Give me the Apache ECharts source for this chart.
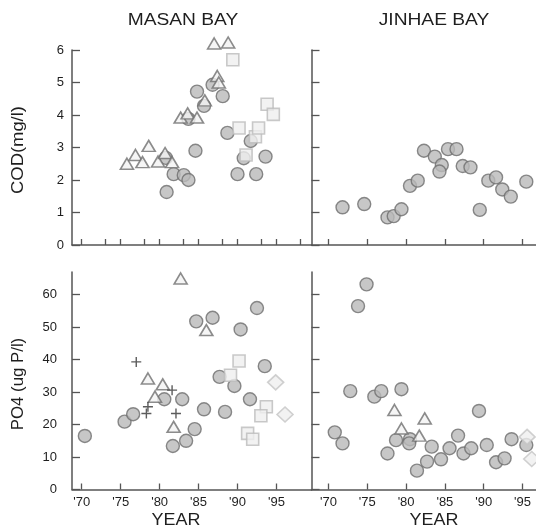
<!DOCTYPE html>
<html><head><meta charset="utf-8">
<script src="https://cdn.jsdelivr.net/npm/echarts@6/dist/echarts.min.js"></script>
<style>html,body{margin:0;padding:0;background:#fff}#c{width:536px;height:532px}</style>
</head><body><div id="c"></div>
<script>
// ---- tick labels / ticks ----
const yearLabels = [70, 75, 80, 85, 90, 95];
const masanCodYearTicks = [70, 73, 75, 78, 80, 83, 85, 88, 90, 93, 95, 98];
const codTicks = [0, 1, 2, 3, 4, 5, 6];
const po4Ticks = [0, 10, 20, 30, 40, 50, 60];

// ---- MASAN BAY, COD (mg/l) ----
const masanCodCircles = [[80.9,1.63],[81.8,2.18],[83.1,2.15],[83.7,2.0],[80.8,2.68],[83.7,3.88],[84.6,2.9],[84.8,4.72],[85.7,4.28],[86.8,4.93],[88.1,4.58],[88.7,3.45],[90.0,2.18],[90.8,2.67],[91.7,3.2],[92.4,2.18],[93.6,2.72]];
const masanCodTriangles = [[75.8,2.5],[76.9,2.77],[77.8,2.55],[78.6,3.05],[79.8,2.57],[80.7,2.83],[81.6,2.55],[82.7,3.92],[83.6,4.05],[84.8,3.92],[85.8,4.45],[87.4,5.2],[87.6,5.0],[87.0,6.2],[88.8,6.23]];
const masanCodSquares = [[89.4,5.7],[90.2,3.6],[91.1,2.77],[92.3,3.33],[92.7,3.6],[93.8,4.33],[94.6,4.02]];

// ---- JINHAE BAY, COD (mg/l) ----
const jinhaeCodCircles = [[71.8,1.16],[74.6,1.26],[77.6,0.85],[78.4,0.89],[79.4,1.1],[80.5,1.82],[81.5,1.98],[82.3,2.9],[83.7,2.72],[84.6,2.46],[84.3,2.26],[85.4,2.95],[86.5,2.95],[87.3,2.43],[88.3,2.39],[89.5,1.08],[90.6,1.98],[91.6,2.08],[92.4,1.71],[93.5,1.49],[95.5,1.95]];

// ---- MASAN BAY, PO4 (ug P/l) ----
const masanPo4Circles = [[70.4,16.5],[75.5,20.9],[76.6,23.2],[80.6,27.8],[82.9,27.8],[81.7,13.4],[83.4,15.0],[84.5,18.6],[84.7,51.8],[86.8,52.9],[85.7,24.7],[87.7,34.7],[88.4,23.9],[89.6,31.9],[90.4,49.3],[91.6,27.8],[92.5,55.9],[93.5,38.0]];
const masanPo4Triangles = [[82.7,65.0],[86.0,49.1],[78.5,34.2],[80.4,32.4],[79.4,28.6],[81.8,19.3]];
const masanPo4Plus = [[77.0,39.3],[78.5,25.5],[78.3,23.4],[81.6,30.6],[82.1,23.4]];
const masanPo4Squares = [[89.1,35.2],[90.2,39.6],[93.7,25.5],[93.0,22.7],[91.3,17.3],[91.95,15.5]];
const masanPo4Diamonds = [[94.9,33.0],[96.1,23.1]];

// ---- JINHAE BAY, PO4 (ug P/l) ----
const jinhaePo4Circles = [[74.9,63.2],[73.8,56.5],[72.8,30.3],[75.9,28.6],[76.8,30.3],[79.4,30.9],[70.8,17.6],[71.8,14.2],[77.6,11.1],[78.7,15.2],[80.5,15.5],[80.4,14.2],[81.4,5.8],[83.3,13.2],[82.7,8.6],[84.5,9.3],[85.6,12.7],[86.7,16.6],[87.4,11.1],[88.4,12.7],[89.4,24.2],[90.4,13.7],[91.6,8.4],[92.7,9.6],[93.6,15.5],[95.5,13.7]];
const jinhaePo4Triangles = [[78.5,24.5],[79.4,18.8],[81.7,16.6],[82.4,21.9]];
const jinhaePo4Diamonds = [[95.6,16.2],[96.2,9.4]];

const FONT = 'Liberation Sans';
const axisCol = '#555';
const lbl = { color: '#1e1e1e', fontFamily: FONT, fontSize: 13 };

function xAx(grid, min, max, ticks, labels) {
  return {
    type: 'value', gridIndex: grid, min: min, max: max,
    splitLine: { show: false },
    axisLine: { onZero: false, lineStyle: { color: axisCol, width: 1.5 } },
    axisTick: { inside: true, length: 6, customValues: ticks, lineStyle: { color: axisCol, width: 1.3 } },
    axisLabel: labels ? Object.assign({ customValues: labels, margin: 6, formatter: v => "'" + v }, lbl) : { show: false }
  };
}
function yAx(grid, max, ticks, showLabels, margin) {
  return {
    type: 'value', gridIndex: grid, min: 0, max: max,
    splitLine: { show: false },
    axisLine: { onZero: false, lineStyle: { color: axisCol, width: 1.5 } },
    axisTick: { inside: true, length: 8, customValues: ticks, lineStyle: { color: axisCol, width: 1.3 } },
    axisLabel: showLabels ? Object.assign({ customValues: ticks, margin: margin }, lbl) : { show: false }
  };
}

const circleStyle = { color: '#b9b9b9', borderColor: '#6e6e6e', borderWidth: 1.4 };
const triStyle = { color: '#f3f3f3', borderColor: '#6f6f6f', borderWidth: 1.6 };
const sqStyle = { color: '#efefef', borderColor: '#bcbcbc', borderWidth: 1.6 };
const diaStyle = { color: '#efefef', borderColor: '#c4c4c4', borderWidth: 1.6 };
const plusPath = 'path://M4.3,0h1.4v4.3h4.3v1.4h-4.3v4.3h-1.4v-4.3h-4.3v-1.4h4.3z';

function sc(idx, data, kind) {
  const base = { type: 'scatter', xAxisIndex: idx, yAxisIndex: idx, data: data, silent: true, animation: false, clip: false };
  if (kind === 'circle') return Object.assign(base, { symbol: 'circle', symbolSize: 13, itemStyle: circleStyle, z: 2 });
  if (kind === 'tri') return Object.assign(base, { symbol: 'triangle', symbolSize: [13, 11], itemStyle: triStyle, z: 4 });
  if (kind === 'sq') return Object.assign(base, { symbol: 'rect', symbolSize: 12, itemStyle: sqStyle, z: 3 });
  if (kind === 'dia') return Object.assign(base, { symbol: 'diamond', symbolSize: [16, 15], itemStyle: diaStyle, z: 3 });
  if (kind === 'plus') return Object.assign(base, { symbol: plusPath, symbolSize: 10, itemStyle: { color: '#333' }, z: 5 });
}

function txt(x, y, s, size, sx, rot) {
  return {
    type: 'text', x: x, y: y, rotation: rot || 0, scaleX: sx, scaleY: 1,
    style: { text: s, fill: '#1e1e1e', font: size + 'px "' + FONT + '"', align: 'center', verticalAlign: 'middle' }
  };
}

const chart = echarts.init(document.getElementById('c'), null, { renderer: 'canvas' });
chart.setOption({
  backgroundColor: '#fff',
  animation: false,
  grid: [
    { left: 72, top: 50, width: 239.5, height: 195 },
    { left: 311.5, top: 50, width: 224.5, height: 195 },
    { left: 72, top: 272, width: 239.5, height: 217.5 },
    { left: 311.5, top: 272, width: 224.5, height: 217.5 }
  ],
  xAxis: [
    xAx(0, 68.75, 99.5, masanCodYearTicks, null),
    xAx(1, 67.8, 96.75, yearLabels, null),
    xAx(2, 68.75, 99.5, yearLabels, yearLabels),
    xAx(3, 67.8, 96.75, yearLabels, yearLabels)
  ],
  yAxis: [
    yAx(0, 6, codTicks, true, 8),
    yAx(1, 6, codTicks, false, 8),
    yAx(2, 67, po4Ticks, true, 15),
    yAx(3, 67, po4Ticks, false, 15)
  ],
  series: [
    sc(0, masanCodCircles, 'circle'), sc(0, masanCodSquares, 'sq'), sc(0, masanCodTriangles, 'tri'),
    sc(1, jinhaeCodCircles, 'circle'),
    sc(2, masanPo4Circles, 'circle'), sc(2, masanPo4Squares, 'sq'), sc(2, masanPo4Diamonds, 'dia'),
    sc(2, masanPo4Triangles, 'tri'), sc(2, masanPo4Plus, 'plus'),
    sc(3, jinhaePo4Circles, 'circle'), sc(3, jinhaePo4Diamonds, 'dia'), sc(3, jinhaePo4Triangles, 'tri')
  ],
  graphic: [
    txt(183, 21, 'MASAN BAY', 16, 1.2),
    txt(434, 21, 'JINHAE BAY', 16, 1.2),
    txt(19, 150, 'COD(mg/l)', 16, 1.15, Math.PI / 2),
    txt(19, 384, 'PO4 (ug P/l)', 16, 1.05, Math.PI / 2),
    txt(176, 521, 'YEAR', 16, 1.12),
    txt(434, 521, 'YEAR', 16, 1.12)
  ]
});
</script>
</body></html>
